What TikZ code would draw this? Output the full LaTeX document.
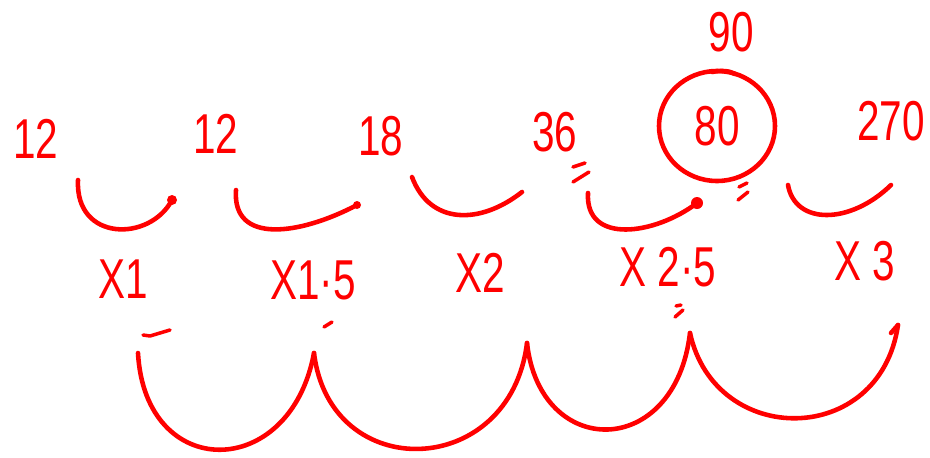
\documentclass[tikz,border=0pt]{standalone}
\usepackage{fontspec}
\usepackage{graphicx}
\setmainfont{Liberation Sans}
\definecolor{ink}{RGB}{255,0,0}
\newcommand{\hwtext}[1]{\scalebox{0.72}[1]{#1}}
\tikzset{
  pen/.style={draw=ink, line width=2.6pt, line cap=round, line join=round},
  num/.style={text=ink, inner sep=0pt, font=\fontsize{32}{32}\selectfont},
  tipdot/.style={fill=ink, draw=none}
}
\begin{document}
\begin{tikzpicture}[x=0.02cm, y=-0.02cm]
\useasboundingbox (0,0) rectangle (930,457);
% numbers on top
\node[num] (n1) at (36,139) {\hwtext{12}};
\node[num] (n2) at (216,134) {\hwtext{12}};
\node[num] (n3) at (381,136) {\hwtext{18}};
\node[num] (n4) at (555,132) {\hwtext{36}};
\node[num] (n5) at (717,126) {\hwtext{80}};
\node[num] (n5b) at (731,32) {\hwtext{90}};
\node[num] (n6) at (891,121) {\hwtext{270}};
% multipliers
\node[num] (m1) at (123,279) {\hwtext{X1}};
\node[num] (m2) at (313,280) {\hwtext{X1·5}};
\node[num] (m3) at (480,273) {\hwtext{X2}};
\node[num] (m4) at (668,267) {\hwtext{X 2·5}};
\node[num] (m5) at (865,261) {\hwtext{X 3}};
% circle around 80
\draw[pen] (n5) ellipse [x radius=58, y radius=55];
\draw[pen] (712,72) .. controls (722,70) and (730,71) .. (735,74);
% upper arcs
\coordinate (a1s) at (78,180);  \coordinate (a1e) at (172,200);
\coordinate (a2s) at (236,190); \coordinate (a2e) at (357,205);
\coordinate (a3s) at (412,177); \coordinate (a3e) at (522,192);
\coordinate (a4s) at (588,193); \coordinate (a4e) at (697,203);
\coordinate (a5s) at (788,185); \coordinate (a5e) at (891,185);
\draw[pen] (a1s) .. controls (75,242) and (150,242) .. (a1e);
\draw[pen] (a2s) .. controls (232,245) and (300,235) .. (a2e);
\draw[pen] (a3s) .. controls (430,225) and (480,225) .. (a3e);
\draw[pen] (a4s) .. controls (585,245) and (655,235) .. (a4e);
\draw[pen] (a5s) .. controls (795,225) and (850,225) .. (a5e);
\fill[tipdot] (a1e) circle [radius=5];
\fill[tipdot] (a2e) circle [radius=4];
\fill[tipdot] (a4e) circle [radius=6];
% lower arcs
\coordinate (b0) at (138,353);
\coordinate (b1) at (314,353);
\coordinate (b2) at (527,343);
\coordinate (b3) at (690,333);
\coordinate (b4) at (898,325);
\draw[pen] (b0) .. controls (145,482) and (290,482) .. (b1);
\draw[pen] (b1) .. controls (330,485) and (510,480) .. (b2);
\draw[pen] (b2) .. controls (540,460) and (675,460) .. (b3);
\draw[pen] (b3) .. controls (715,448) and (880,448) .. (b4);
\draw[pen] (b4) -- (891,333);
% small marks
\draw[pen, line width=2pt] (573,167) -- (585,163);
\draw[pen, line width=2pt] (573,182) -- (589,172);
\draw[pen, line width=2pt] (739,187) -- (747,183);
\draw[pen, line width=2pt] (738,200) -- (748,192);
\draw[pen, line width=2pt] (143,335) -- (150,336) -- (170,330);
\draw[pen, line width=2pt] (324,327) -- (332,322);
\draw[pen, line width=2pt] (676,306) -- (681,305);
\draw[pen, line width=2pt] (675,317) -- (683,310);
\end{tikzpicture}
\end{document}
